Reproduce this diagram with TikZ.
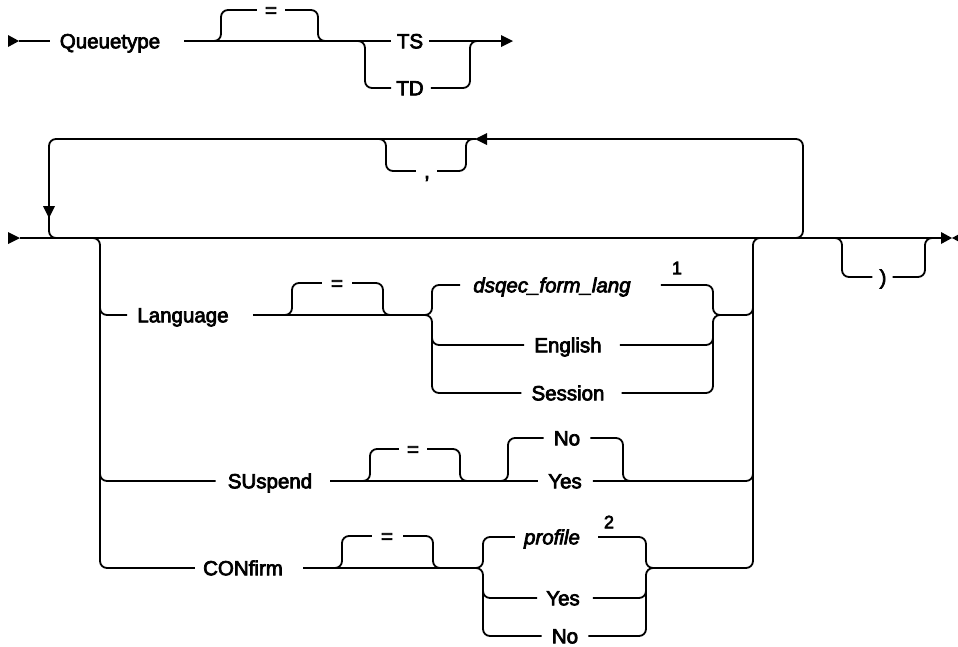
\documentclass[tikz,border=0pt]{standalone}
\usepackage{fontspec}
\setmainfont{Liberation Sans}[FakeBold=3.5]
\begin{document}
\begin{tikzpicture}[x=1pt,y=-1pt,
  rail/.style={line width=1.8pt, rounded corners=7pt},
  lbl/.style={inner sep=0pt, text height=14.6pt, text depth=0pt, font=\fontsize{20.5}{24}\selectfont},
  ital/.style={lbl, font=\fontsize{20.5}{24}\selectfont\itshape},
  note/.style={inner sep=0pt, font=\fontsize{18}{20}\selectfont}]
\useasboundingbox (0,0) rectangle (958,646);

% ---------- Row 1 ----------
\coordinate (s1) at (19,41);
\coordinate (e1) at (501,41);
\node[lbl] (q) at (110,41) {Queuetype};
\node[lbl] (eq1) at (271,10) {=};
\node[lbl] (ts) at (410,41) {TS};
\node[lbl] (td) at (410,88) {TD};

\fill (8,35) -- (19,41) -- (8,47) -- cycle;
\draw[rail] (s1) -- ([xshift=-10pt]q.west);
\draw[rail] ([xshift=24pt]q.east) -- ([xshift=-6pt]ts.west);
\draw[rail] (212,41) -- (221,41) -- (221,10) -- ([xshift=-8pt]eq1.west);
\draw[rail] ([xshift=8pt]eq1.east) -- (318,10) -- (318,41) -- (327,41);
\draw[rail] (357,41) -- (365,41) -- (365,88) -- ([xshift=-5pt]td.west);
\draw[rail] ([xshift=7pt]td.east) -- (470,88) -- (470,41) -- (478,41);
\draw[rail] ([xshift=6pt]ts.east) -- (e1);
\fill (501,35) -- (513,41) -- (501,47) -- cycle;

% ---------- Row 2 main line and loop ----------
\coordinate (s2) at (20,238);
\coordinate (e2) at (942,238);
\fill (8,232) -- (20,238) -- (8,244) -- cycle;
\draw[rail] (s2) -- (e2);
\fill (941,232) -- (952,238) -- (941,244) -- cycle;
\fill (963,232) -- (952,238) -- (963,244) -- cycle;

\draw[rail] (789,238) -- (803,238) -- (803,139) -- (486,139);
\fill (487,133) -- (475,139) -- (487,145) -- cycle;
\draw[rail] (476,139) -- (49,139) -- (49,208);
\fill (43,206) -- (55,206) -- (49,218) -- cycle;
\draw[rail] (49,214) -- (49,238) -- (62,238);

\node[lbl] (cm) at (427,171) {,};
\draw[rail] (378,139) -- (386,139) -- (386,171) -- ([xshift=-8pt]cm.west);
\draw[rail] ([xshift=7pt]cm.east) -- (466,171) -- (466,139) -- (474,139);

\node[lbl] (rp) at (883,277) {)};
\draw[rail] (834,238) -- (842,238) -- (842,277) -- ([xshift=-7pt]rp.west);
\draw[rail] ([xshift=6pt]rp.east) -- (925,277) -- (925,238) -- (933,238);

% ---------- choice block ----------
\node[lbl] (lg) at (183,315) {Language};
\node[lbl] (su) at (270,481) {SUspend};
\node[lbl] (cf) at (243,568) {CONfirm};

\draw[rail] (88,238) -- (100,238) -- (100,568) -- ([xshift=-8pt]cf.west);
\draw[rail] (100,300) -- (100,315) -- ([xshift=-10pt]lg.west);
\draw[rail] (100,466) -- (100,481) -- ([xshift=-12pt]su.west);

\coordinate (rt) at (765,238);
\coordinate (cb2) at (653,568);
\draw[rail] (cb2) -- (753,568) -- (753,238) -- (rt);

% Language row
\coordinate (lb) at (425,315);
\coordinate (rb) at (720,315);
\node[lbl] (eq2) at (337,283) {=};
\node[ital] (ds) at (552,285) {dsqec\_form\_lang};
\node[note] (n1) at (677,268) {1};
\node[lbl] (en) at (568,345) {English};
\node[lbl] (ss) at (568,393) {Session};

\draw[rail] ([xshift=24pt]lg.east) -- (lb);
\draw[rail] (284,315) -- (292,315) -- (292,283) -- ([xshift=-9pt]eq2.west);
\draw[rail] ([xshift=9pt]eq2.east) -- (383,283) -- (383,315) -- (391,315);
\draw[rail] (lb) -- (432,315) -- (432,285) -- ([xshift=-13pt]ds.west);
\draw[rail] (lb) -- (432,315) -- (432,393) -- ([xshift=-10pt]ss.west);
\draw[rail] (432,330) -- (432,345) -- ([xshift=-10pt]en.west);
\draw[rail] ([xshift=30pt]ds.east) -- (713,285) -- (713,315) -- (rb);
\draw[rail] ([xshift=17pt]ss.east) -- (713,393) -- (713,315) -- (rb);
\draw[rail] ([xshift=18pt]en.east) -- (713,345) -- (713,330);
\draw[rail] (rb) -- (753,315) -- (753,300);

% SUspend row
\node[lbl] (eq3) at (413,449) {=};
\node[lbl] (no1) at (567,438) {No};
\node[lbl] (ys1) at (565,481) {Yes};
\draw[rail] ([xshift=18pt]su.east) -- ([xshift=-10pt]ys1.west);
\draw[rail] (362,481) -- (370,481) -- (370,449) -- ([xshift=-8pt]eq3.west);
\draw[rail] ([xshift=8pt]eq3.east) -- (460,449) -- (460,481) -- (468,481);
\draw[rail] (500,481) -- (508,481) -- (508,438) -- ([xshift=-10pt]no1.west);
\draw[rail] ([xshift=10pt]no1.east) -- (623,438) -- (623,481) -- (631,481);
\draw[rail] ([xshift=11pt]ys1.east) -- (753,481) -- (753,466);

% CONfirm row
\coordinate (cb1) at (476,568);
\node[lbl] (eq4) at (387,536) {=};
\node[ital] (pf) at (552,537) {profile};
\node[note] (n2) at (609,522) {2};
\node[lbl] (ys2) at (563,598) {Yes};
\node[lbl] (no2) at (565,636) {No};
\draw[rail] ([xshift=20pt]cf.east) -- (cb1);
\draw[rail] (334,568) -- (342,568) -- (342,536) -- ([xshift=-9pt]eq4.west);
\draw[rail] ([xshift=10pt]eq4.east) -- (433,536) -- (433,568) -- (441,568);
\draw[rail] (cb1) -- (483,568) -- (483,537) -- ([xshift=-9pt]pf.west);
\draw[rail] (cb1) -- (483,568) -- (483,636) -- ([xshift=-10pt]no2.west);
\draw[rail] (483,583) -- (483,598) -- ([xshift=-9pt]ys2.west);
\draw[rail] ([xshift=18pt]pf.east) -- (646,537) -- (646,568) -- (cb2);
\draw[rail] ([xshift=10pt]no2.east) -- (646,636) -- (646,568) -- (cb2);
\draw[rail] ([xshift=13pt]ys2.east) -- (646,598) -- (646,583);
\end{tikzpicture}
\end{document}
